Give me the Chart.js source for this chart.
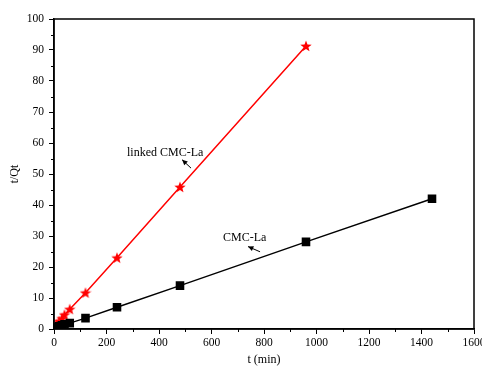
<!DOCTYPE html>
<html><head><meta charset="utf-8">
<script src="https://cdn.jsdelivr.net/npm/chart.js@4"></script>
<style>html,body{margin:0;padding:0;background:#fff}#wrap{width:482px;height:367px}</style>
</head><body><div id="wrap"><canvas id="c" width="482" height="367"></canvas></div>
<script>
const timeLinked = [5, 10, 20, 30, 40, 60, 120, 240, 480, 960];
const qLinked = [1.0, 1.6, 2.5, 3.4, 4.6, 6.4, 11.7, 23.0, 45.8, 91.3];
const timeCMC = [5, 10, 20, 30, 40, 60, 120, 240, 480, 960, 1440];
const qCMC = [0.4, 0.6, 0.9, 1.2, 1.5, 1.9, 3.5, 7.0, 14.0, 28.1, 42.0];
const xTicks = [0, 200, 400, 600, 800, 1000, 1200, 1400, 1600];
const yTicks = [0, 10, 20, 30, 40, 50, 60, 70, 80, 90, 100];
const labelLinked = 'linked CMC-La';
const labelCMC = 'CMC-La';
const annotations = [
  {text: labelLinked, x: 278, y: 56.8, ax1: 488, ay1: 54.6, ax2: 522, ay2: 51.9},
  {text: labelCMC, x: 644, y: 29.4, ax1: 739, ay1: 26.6, ax2: 785, ay2: 24.9}
];

const FONT = '"Liberation Serif", "Times New Roman", serif';

function starImage(size, color) {
  const cv = document.createElement('canvas');
  cv.width = size; cv.height = size;
  const g = cv.getContext('2d');
  const cx = size / 2, cy = size / 2 + 0.5, R = size / 2, r = R * 0.42;
  g.beginPath();
  for (let i = 0; i < 10; i++) {
    const a = -Math.PI / 2 + i * Math.PI / 5;
    const rr = i % 2 === 0 ? R : r;
    g.lineTo(cx + rr * Math.cos(a), cy + rr * Math.sin(a));
  }
  g.closePath();
  g.fillStyle = color; g.fill();
  return cv;
}
const star = starImage(12, '#ff0000');

const decor = {
  id: 'decor',
  afterDraw(chart) {
    const ctx = chart.ctx, a = chart.chartArea;
    const xs = chart.scales.x, ys = chart.scales.y;
    ctx.save();
    ctx.strokeStyle = '#000'; ctx.lineWidth = 1.5;
    ctx.strokeRect(a.left, a.top, a.right - a.left, a.bottom - a.top);
    ctx.lineWidth = 1;
    for (let v = 100; v < 1600; v += 200) {
      const px = Math.round(xs.getPixelForValue(v)) + 0.5;
      ctx.beginPath(); ctx.moveTo(px, a.bottom); ctx.lineTo(px, a.bottom + 3); ctx.stroke();
    }
    for (let v = 5; v < 100; v += 10) {
      const py = Math.round(ys.getPixelForValue(v)) + 0.5;
      ctx.beginPath(); ctx.moveTo(a.left, py); ctx.lineTo(a.left - 3, py); ctx.stroke();
    }
    ctx.fillStyle = '#000';
    ctx.font = '12px ' + FONT;
    ctx.textBaseline = 'middle'; ctx.textAlign = 'left';
    annotations.forEach(an => {
      ctx.fillText(an.text, xs.getPixelForValue(an.x), ys.getPixelForValue(an.y));
      const x1 = xs.getPixelForValue(an.ax1), y1 = ys.getPixelForValue(an.ay1);
      const x2 = xs.getPixelForValue(an.ax2), y2 = ys.getPixelForValue(an.ay2);
      ctx.lineWidth = 1;
      ctx.beginPath(); ctx.moveTo(x1, y1); ctx.lineTo(x2, y2); ctx.stroke();
      const ang = Math.atan2(y1 - y2, x1 - x2);
      const L = 6, W = 0.45;
      ctx.beginPath();
      ctx.moveTo(x1, y1);
      ctx.lineTo(x1 - L * Math.cos(ang - W), y1 - L * Math.sin(ang - W));
      ctx.lineTo(x1 - L * Math.cos(ang + W), y1 - L * Math.sin(ang + W));
      ctx.closePath(); ctx.fill();
    });
    ctx.restore();
  }
};

new Chart(document.getElementById('c'), {
  type: 'scatter',
  data: {
    datasets: [
      {
        label: labelCMC,
        data: timeCMC.map((t, i) => ({x: t, y: qCMC[i]})),
        showLine: true, borderColor: '#000', backgroundColor: '#000',
        borderWidth: 1.5, pointStyle: 'rect', pointRadius: 5, tension: 0
      },
      {
        label: labelLinked,
        data: timeLinked.map((t, i) => ({x: t, y: qLinked[i]})),
        showLine: true, borderColor: '#ff0000', backgroundColor: '#ff0000',
        borderWidth: 1.5, pointStyle: star, tension: 0
      }
    ]
  },
  options: {
    responsive: false, animation: false, devicePixelRatio: 1,
    layout: {padding: {top: 19, right: 8, left: 0, bottom: 0}, autoPadding: false},
    plugins: {legend: {display: false}, tooltip: {enabled: false}},
    scales: {
      x: {
        type: 'linear', min: 0, max: 1600,
        afterBuildTicks: s => { s.ticks = xTicks.map(v => ({value: v})); },
        afterFit: s => { s.height = 38; s.paddingLeft = 0; s.paddingRight = 0; },
        grid: {drawOnChartArea: false, drawTicks: true, tickLength: 5, tickColor: '#000', tickWidth: 1},
        border: {color: '#000', width: 1.5},
        ticks: {color: '#000', font: {family: FONT, size: 11.5}, padding: 2, maxRotation: 0, callback: v => String(v)},
        title: {display: true, text: 't (min)', color: '#000', font: {family: FONT, size: 12}, padding: {top: -3, bottom: 0}}
      },
      y: {
        type: 'linear', min: 0, max: 100,
        afterBuildTicks: s => { s.ticks = yTicks.map(v => ({value: v})); },
        afterFit: s => { s.width = 54; s.paddingTop = 0; s.paddingBottom = 0; },
        grid: {drawOnChartArea: false, drawTicks: true, tickLength: 5, tickColor: '#000', tickWidth: 1},
        border: {color: '#000', width: 1.5},
        ticks: {color: '#000', font: {family: FONT, size: 11.5}, padding: 5, callback: v => String(v)},
        title: {display: true, text: 't/Qt', color: '#000', font: {family: FONT, size: 12}, padding: {top: 8, bottom: 0}}
      }
    }
  },
  plugins: [decor]
});
</script></body></html>
